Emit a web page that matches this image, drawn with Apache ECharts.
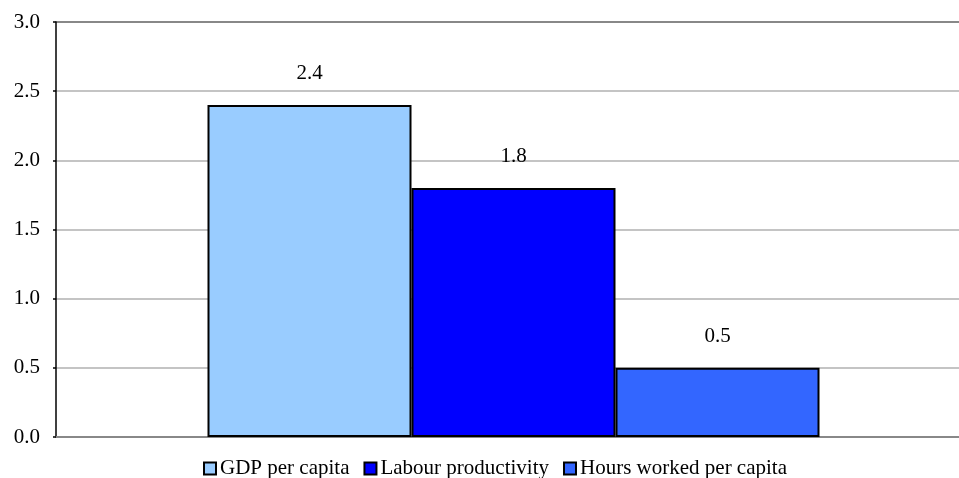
<!DOCTYPE html>
<html>
<head>
<meta charset="utf-8">
<script src="https://cdn.jsdelivr.net/npm/echarts@6/dist/echarts.min.js"></script>
<style>
html,body{margin:0;padding:0;background:#fff;overflow:hidden;width:959px;height:478px;}
#c{width:971px;height:478px;}
</style>
</head>
<body>
<div id="c"></div>
<script>
const categories = [''];
const seriesNames = ['GDP per capita', 'Labour productivity', 'Hours worked per capita'];
const gdpPerCapita = [2.4];
const labourProductivity = [1.8];
const hoursWorkedPerCapita = [0.5];
const colors = ['#99CCFF', '#0000FF', '#3366FF'];
const yTicks = [0, 0.5, 1.0, 1.5, 2.0, 2.5, 3.0];

const font = 'Liberation Serif';
const chart = echarts.init(document.getElementById('c'));
const data = [gdpPerCapita, labourProductivity, hoursWorkedPerCapita];

chart.setOption({
  animation: false,
  backgroundColor: '#fff',
  textStyle: { fontFamily: font },
  grid: { left: 56, right: 0, top: 22, bottom: 41, containLabel: false },
  legend: {
    left: 198, top: 453,
    itemWidth: 12, itemHeight: 12, itemGap: 14,
    icon: 'rect',
    textStyle: { fontFamily: font, fontSize: 21, color: '#000', padding: [0, 0, 0, -1] },
    itemStyle: { borderColor: '#000', borderWidth: 2 },
    data: seriesNames
  },
  xAxis: {
    type: 'category',
    data: categories,
    axisLine: { show: true, lineStyle: { color: '#888', width: 2 } },
    axisTick: { show: false },
    axisLabel: { show: false },
    splitLine: { show: false }
  },
  yAxis: {
    type: 'value',
    min: 0, max: 3, interval: 0.5,
    axisLine: { show: true, lineStyle: { color: '#000', width: 1.5 } },
    axisTick: { show: true, inside: false, length: 3, lineStyle: { color: '#000', width: 1.5 } },
    axisLabel: {
      fontFamily: font, fontSize: 21, color: '#000', margin: 16,
      formatter: v => v.toFixed(1)
    },
    splitLine: { show: true, lineStyle: { color: ['#888', '#c4c4c4', '#c4c4c4', '#c4c4c4', '#c4c4c4', '#c4c4c4', '#888'], width: 2 } }
  },
  series: seriesNames.map((n, i) => ({
    name: n,
    type: 'bar',
    data: data[i],
    barWidth: 204,
    barGap: '0%',
    itemStyle: { color: colors[i], borderColor: '#000', borderWidth: 2 },
    label: {
      show: true, position: 'top', distance: 21,
      fontFamily: font, fontSize: 21, color: '#000',
      formatter: p => p.value.toFixed(1)
    }
  }))
});
</script>
</body>
</html>
